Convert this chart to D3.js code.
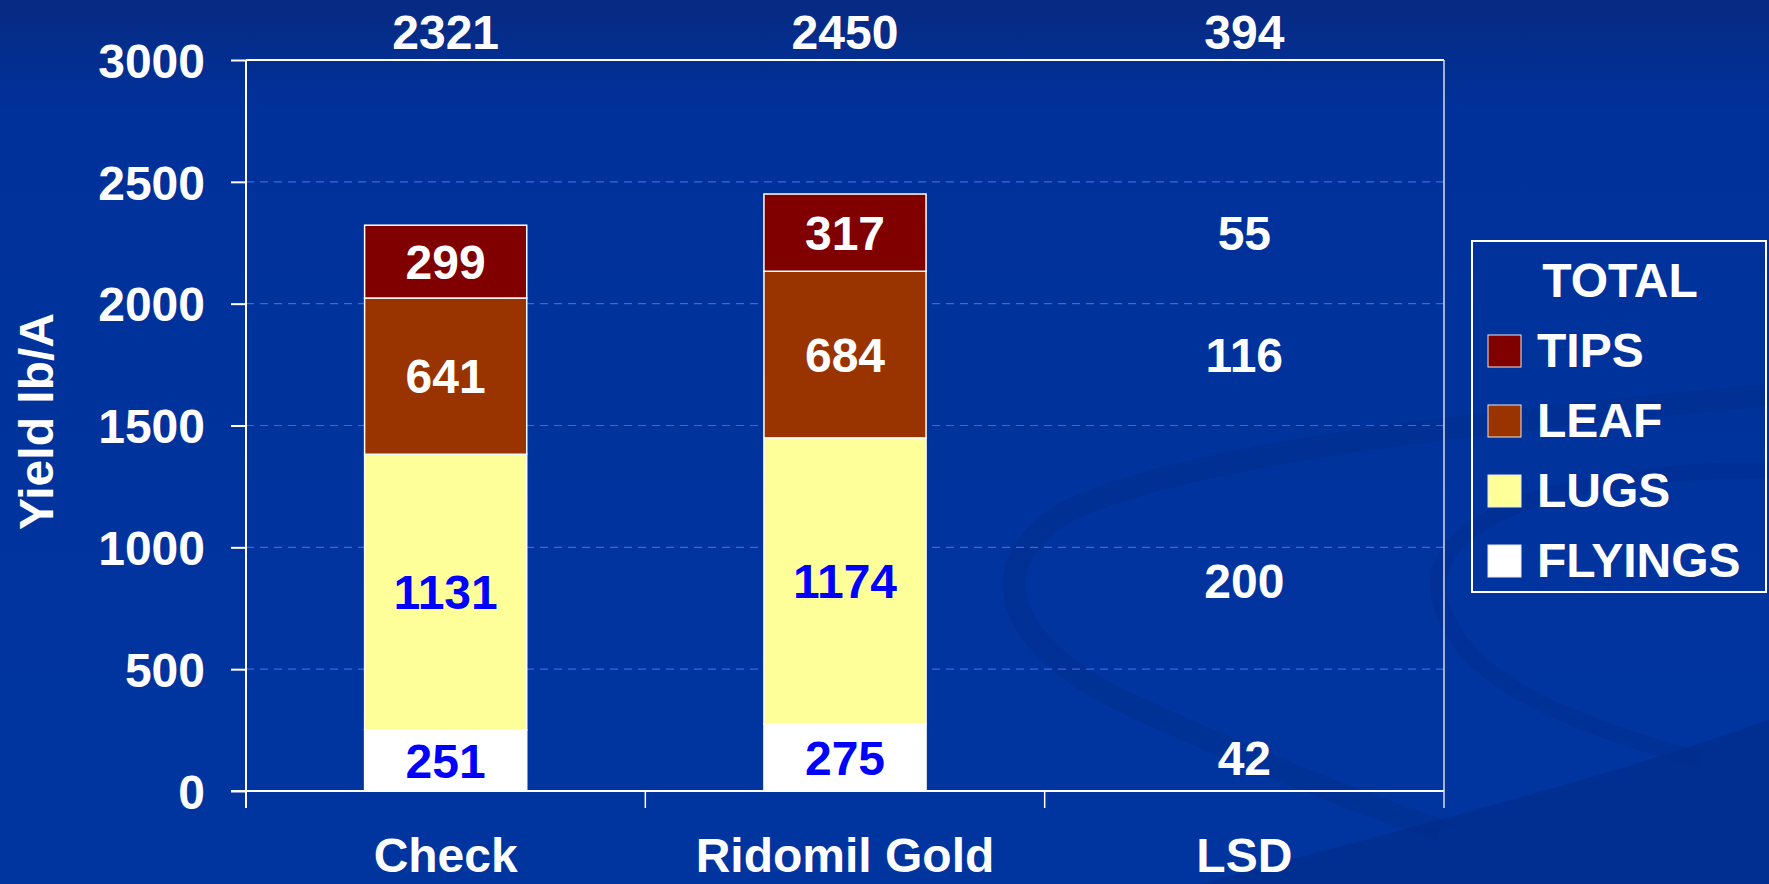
<!DOCTYPE html>
<html>
<head>
<meta charset="utf-8">
<script src="https://cdn.jsdelivr.net/npm/d3@7/dist/d3.min.js"></script>
<style>
  html, body { margin: 0; padding: 0; background: #0033a0; }
  svg { display: block; }
  text { font-family: "Liberation Sans", Arial, Helvetica, sans-serif; font-weight: bold; }
</style>
</head>
<body>
<svg id="chart" width="1769" height="884"></svg>
<script>
// ---------------- DATA ----------------
const categories = ["Check", "Ridomil Gold", "LSD"];
const barCategories = ["Check", "Ridomil Gold"];
const seriesNames = ["FLYINGS", "LUGS", "LEAF", "TIPS"];   // bottom to top
const flyings = [251, 275];
const lugs = [1131, 1174];
const leaf = [641, 684];
const tips = [299, 317];
const totals = [2321, 2450, 394];
const lsdValues = [42, 200, 116, 55];                      // FLYINGS, LUGS, LEAF, TIPS
const yTicks = [0, 500, 1000, 1500, 2000, 2500, 3000];
const legendOrder = ["TIPS", "LEAF", "LUGS", "FLYINGS"];

// ---------------- STYLE ----------------
const colors = { TIPS: "#800000", LEAF: "#993300", LUGS: "#FFFF99", FLYINGS: "#FFFFFF" };
const labelColors = { TIPS: "#FFFFFF", LEAF: "#FFFFFF", LUGS: "#0000FF", FLYINGS: "#0000FF" };
const FS = 48;

const svg = d3.select("#chart");
const W = 1769, H = 884;

// ---------------- BACKGROUND ----------------
const defs = svg.append("defs");
const bg = defs.append("linearGradient").attr("id", "bg").attr("x1", 0).attr("y1", 0).attr("x2", 0).attr("y2", 1);
bg.append("stop").attr("offset", "0%").attr("stop-color", "#072a82");
bg.append("stop").attr("offset", "12%").attr("stop-color", "#00319a");
bg.append("stop").attr("offset", "100%").attr("stop-color", "#0035a0");
svg.append("rect").attr("width", W).attr("height", H).attr("fill", "url(#bg)");

// subtle swirl decoration
const swirl = svg.append("g").attr("fill", "none");
swirl.append("path")
  .attr("d", "M1769,395 C1500,420 1200,450 1070,510 C980,560 1000,640 1120,700 C1250,760 1350,800 1440,830")
  .attr("stroke", "#002d8c").attr("stroke-width", 22).attr("opacity", 0.5);
swirl.append("path")
  .attr("d", "M1769,470 C1560,470 1420,520 1440,600 C1460,680 1560,720 1700,760")
  .attr("stroke", "#002d8c").attr("stroke-width", 16).attr("opacity", 0.4);
swirl.append("path")
  .attr("d", "M1200,884 C1400,830 1600,780 1769,720 L1769,884 Z")
  .attr("fill", "#002c88").attr("opacity", 0.6);

// ---------------- SCALES ----------------
const plotLeft = 246, plotRight = 1444, plotTop = 60, plotBottom = 791;
const x = d3.scaleBand().domain(categories).range([plotLeft, plotRight])
  .paddingInner(0.594).paddingOuter(0.297);
const y = d3.scaleLinear().domain([0, 3000]).range([plotBottom, plotTop]);
const step = x.step();
const bw = x.bandwidth();

// ---------------- GRID ----------------
svg.append("g").selectAll("line")
  .data(yTicks.filter(d => d > 0 && d < 3000))
  .join("line")
  .attr("x1", plotLeft).attr("x2", plotRight)
  .attr("y1", d => y(d)).attr("y2", d => y(d))
  .attr("stroke", "#3a66e8").attr("stroke-width", 1.2)
  .attr("stroke-dasharray", "8,6");

// ---------------- BARS ----------------
const rows = barCategories.map((c, i) => ({
  cat: c, FLYINGS: flyings[i], LUGS: lugs[i], LEAF: leaf[i], TIPS: tips[i]
}));
const stacked = d3.stack().keys(seriesNames)(rows);

const segG = svg.append("g");
stacked.forEach(layer => {
  const key = layer.key;
  segG.append("g").selectAll("rect")
    .data(layer)
    .join("rect")
    .attr("x", d => x(d.data.cat))
    .attr("width", bw)
    .attr("y", d => y(d[1]))
    .attr("height", d => y(d[0]) - y(d[1]))
    .attr("fill", colors[key])
    .attr("stroke", "#ffffff").attr("stroke-width", 1.5);
  segG.append("g").selectAll("text")
    .data(layer)
    .join("text")
    .attr("x", d => x(d.data.cat) + bw / 2)
    .attr("y", d => y((d[0] + d[1]) / 2))
    .attr("dy", "0.36em")
    .attr("text-anchor", "middle")
    .attr("font-size", FS)
    .attr("fill", labelColors[key])
    .text(d => d.data[key]);
});

// LSD labels, aligned with the Ridomil Gold segment centres
const refIdx = 1;
svg.append("g").selectAll("text")
  .data(seriesNames.map((k, i) => ({ k, v: lsdValues[i], layer: stacked[i][refIdx] })))
  .join("text")
  .attr("x", x("LSD") + bw / 2)
  .attr("y", d => y((d.layer[0] + d.layer[1]) / 2))
  .attr("dy", "0.36em")
  .attr("text-anchor", "middle")
  .attr("font-size", FS)
  .attr("fill", "#ffffff")
  .text(d => d.v);

// ---------------- AXES / FRAME ----------------
const axisCol = "#ffffff";
svg.append("line").attr("x1", plotLeft).attr("x2", plotRight).attr("y1", plotTop).attr("y2", plotTop)
  .attr("stroke", axisCol).attr("stroke-width", 2);
svg.append("line").attr("x1", plotRight).attr("x2", plotRight).attr("y1", plotTop).attr("y2", plotBottom)
  .attr("stroke", "#d8dce8").attr("stroke-width", 1.5);

// y axis
const yAxis = d3.axisLeft(y).tickValues(yTicks).tickFormat(d3.format("d")).tickSize(15).tickPadding(26);
const yg = svg.append("g").attr("transform", `translate(${plotLeft},0)`).call(yAxis);
yg.select(".domain").attr("stroke", axisCol).attr("stroke-width", 2)
  .attr("d", `M0,${plotTop}V${plotBottom + 17}`);
yg.selectAll(".tick line").attr("stroke", axisCol).attr("stroke-width", 2);
yg.selectAll(".tick text").attr("fill", "#fff").attr("font-size", FS)
  .attr("font-family", "'Liberation Sans', Arial, sans-serif").attr("font-weight", "bold")
  .attr("dy", "0.36em");

// x axis line and boundary ticks
svg.append("line").attr("x1", plotLeft - 15).attr("x2", plotRight).attr("y1", plotBottom).attr("y2", plotBottom)
  .attr("stroke", axisCol).attr("stroke-width", 2);
const boundaries = categories.map(c => x(c) - (step - bw) / 2).concat([plotRight]);
svg.append("g").selectAll("line").data(boundaries).join("line")
  .attr("x1", d => d).attr("x2", d => d)
  .attr("y1", plotBottom).attr("y2", plotBottom + 17)
  .attr("stroke", (d, i) => i === boundaries.length - 1 ? "#d8dce8" : axisCol)
  .attr("stroke-width", (d, i) => i === 0 ? 2 : 1.5);

// category labels
svg.append("g").selectAll("text").data(categories).join("text")
  .attr("x", d => x(d) + bw / 2)
  .attr("y", 872)
  .attr("text-anchor", "middle")
  .attr("font-size", FS)
  .attr("fill", "#fff")
  .text(d => d);

// totals on top
svg.append("g").selectAll("text").data(categories).join("text")
  .attr("x", d => x(d) + bw / 2)
  .attr("y", 49)
  .attr("text-anchor", "middle")
  .attr("font-size", FS)
  .attr("fill", "#fff")
  .text((d, i) => totals[i]);

// y axis title
svg.append("text")
  .attr("transform", `translate(53, ${(plotTop + plotBottom) / 2 - 4}) rotate(-90)`)
  .attr("text-anchor", "middle")
  .attr("font-size", FS)
  .attr("fill", "#fff")
  .text("Yield lb/A");

// ---------------- LEGEND ----------------
const lg = svg.append("g");
lg.append("rect").attr("x", 1472).attr("y", 241).attr("width", 294).attr("height", 351)
  .attr("fill", "none").attr("stroke", "#fff").attr("stroke-width", 2);
lg.append("text").attr("x", 1620).attr("y", 297).attr("text-anchor", "middle")
  .attr("font-size", FS).attr("fill", "#fff").text("TOTAL");
const items = lg.selectAll("g.item").data(legendOrder).join("g")
  .attr("transform", (d, i) => `translate(1488, ${335 + i * 70})`);
items.append("rect").attr("width", 33).attr("height", 32)
  .attr("fill", d => colors[d]).attr("stroke", "#e8e8e8").attr("stroke-width", 1);
items.append("text").attr("x", 49).attr("y", 32)
  .attr("font-size", FS).attr("fill", "#fff").text(d => d);
</script>
</body>
</html>
